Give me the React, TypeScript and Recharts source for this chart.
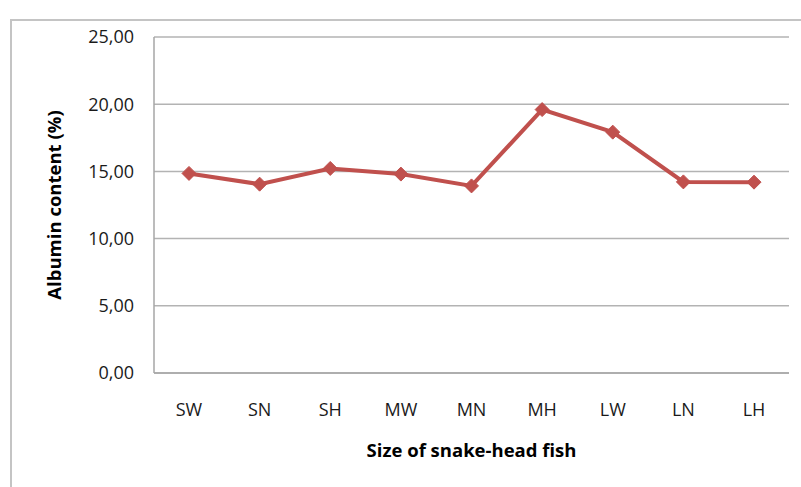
import React from 'react';
import { LineChart, Line, XAxis, YAxis, CartesianGrid } from 'recharts';

// --- Data ---
const sizes = ['SW', 'SN', 'SH', 'MW', 'MN', 'MH', 'LW', 'LN', 'LH'];
const albumin = [14.85, 14.05, 15.22, 14.8, 13.92, 19.6, 17.92, 14.22, 14.2];
const yTicks = [0, 5, 10, 15, 20, 25];

const data = sizes.map((s, i) => ({ size: s, albumin: albumin[i] }));

const RED = '#C0504D';
const FONT = '"Open Sans", Lato, sans-serif';

const Diamond = (props: any) => {
  const { cx, cy } = props;
  if (cx == null || cy == null) return null;
  const r = 7;
  return (
    <path
      d={`M${cx},${cy - r} L${cx + r},${cy} L${cx},${cy + r} L${cx - r},${cy} Z`}
      fill={RED}
      stroke={RED}
      strokeWidth={1}
    />
  );
};

const fmt = (v: number) => v.toFixed(2).replace('.', ',');

export default function App() {
  return (
    <div style={{ position: 'absolute', left: 0, top: 0, width: 801, height: 487, overflow: 'hidden', background: '#fff' }}>
      {/* chart frame, runs past the picture on the right and bottom */}
      <div
        style={{
          position: 'absolute',
          left: 10,
          top: 19,
          width: 820,
          height: 500,
          border: '2px solid #c4c4c4',
          boxSizing: 'border-box',
        }}
      />
      <div style={{ position: 'absolute', left: 0, top: 0 }}>
        <LineChart
          width={801}
          height={487}
          data={data}
          margin={{ top: 37, right: 12, left: 0, bottom: 54 }}
          style={{ fontFamily: FONT }}
        >
          <CartesianGrid vertical={false} stroke="#b3b3b3" strokeWidth={1.5} />
          <XAxis
            dataKey="size"
            height={60}
            padding={{ left: 35, right: 35 }}
            axisLine={{ stroke: '#a6a6a6', strokeWidth: 1.5 }}
            tickLine={false}
            tickMargin={24}
            tick={{ fill: '#1a1a1a', fontSize: 18 }}
            label={{
              value: 'Size of snake-head fish',
              position: 'bottom',
              offset: 11,
              style: { fill: '#000', fontSize: 18.5, fontWeight: 700 },
            }}
          />
          <YAxis
            width={154}
            domain={[0, 25]}
            ticks={yTicks}
            interval={0}
            tickFormatter={fmt}
            axisLine={{ stroke: '#a6a6a6', strokeWidth: 1.5 }}
            tickLine={false}
            tickMargin={14}
            tick={{ fill: '#1a1a1a', fontSize: 18 }}
            label={{
              value: 'Albumin content (%)',
              angle: -90,
              position: 'insideLeft',
              offset: 54,
              style: { textAnchor: 'middle', fill: '#000', fontSize: 18.5, fontWeight: 700 },
            }}
          />
          <Line
            type="linear"
            dataKey="albumin"
            stroke={RED}
            strokeWidth={4}
            dot={<Diamond />}
            activeDot={false}
            isAnimationActive={false}
          />
        </LineChart>
      </div>
    </div>
  );
}
